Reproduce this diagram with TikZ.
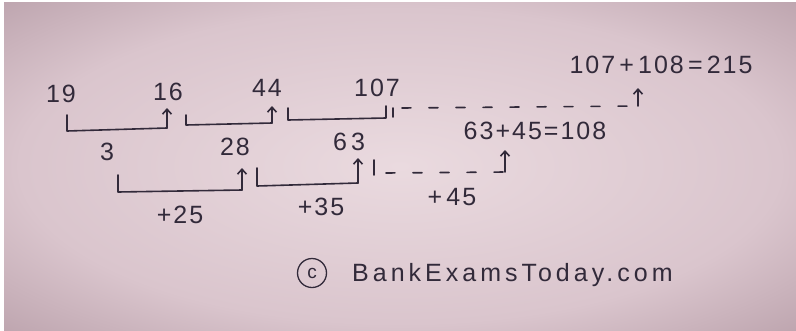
\documentclass[tikz,border=0pt]{standalone}
\usepackage{fontspec}
\setmainfont{Liberation Sans}[LetterSpace=8]
\usetikzlibrary{arrows.meta}
\definecolor{ink}{RGB}{50,42,58}
\definecolor{pinkin}{RGB}{234,218,223}
\definecolor{pinkmid}{RGB}{218,197,205}
\definecolor{pinkout}{RGB}{155,126,138}
\pgfdeclareradialshading{paper}{\pgfpoint{0bp}{0bp}}{color(0bp)=(pinkin); color(24bp)=(pinkmid); color(50bp)=(pinkout); color(75bp)=(pinkout)}
\begin{document}
\begin{tikzpicture}[x=1pt,y=-1pt,
  num/.style={text=ink, font=\fontsize{25}{29}\selectfont, inner sep=0pt, anchor=center},
  ln/.style={draw=ink, line width=1.6pt, line cap=round, line join=round},
  arr/.style={ln, -{Straight Barb[length=5pt,width=9pt]}},
  dsh/.style={ln, dash pattern=on 9pt off 18pt}]
\useasboundingbox (0,0) rectangle (796,330);
\fill[white] (0,0) rectangle (796,330);
\shade[shading=paper] (4,2) rectangle (796,330);

% row 1 numbers
\node[num] (n19) at (61,94) {19};
\node[num] (n16) at (168,92) {16};
\node[num] (n44) at (267,88) {44};
\node[num] (n107) at (377,88) {107};
% row 1 differences
\node[num] (d3) at (107,152) {3};
\node[num] (d28) at (235,147) {28};
\node[num] (d63) at (349,142) {6\,3};
% row 2 differences
\node[num] (p25) at (180,215) {+25};
\node[num] (p35) at (321,207) {+35};
\node[num] (p45) at (452,197) {+\,45};
% results
\node[num] (r108) at (535,131) {63+45=108};
\node[num] (r215) at (661,65) {107\,+\,108\,=\,215};

% row 1 bracket corners
\coordinate (a1) at (67,115); \coordinate (a2) at (67,131); \coordinate (a3) at (167,128); \coordinate (a4) at (167,108);
\coordinate (b1) at (186,115); \coordinate (b2) at (186,125); \coordinate (b3) at (272,123); \coordinate (b4) at (272,106);
\coordinate (c1) at (288,108); \coordinate (c2) at (288,120); \coordinate (c3) at (386,118); \coordinate (c4) at (386,106);
\coordinate (c5) at (393,108); \coordinate (c6) at (393,117);
\coordinate (e1) at (402,108); \coordinate (e2) at (638,106); \coordinate (e3) at (638,88);

\draw[ln] (a1) -- (a2) -- (a3);
\draw[arr] (a3) -- (a4);
\draw[ln] (b1) -- (b2) -- (b3);
\draw[arr] (b3) -- (b4);
\draw[ln] (c1) -- (c2) -- (c3) -- (c4);
\draw[ln] (c5) -- (c6);
\draw[dsh] (e1) -- (e2);
\draw[arr] (e2) -- (e3);

% row 2 bracket corners
\coordinate (f1) at (118,175); \coordinate (f2) at (118,192); \coordinate (f3) at (242,190); \coordinate (f4) at (242,168);
\coordinate (g1) at (257,168); \coordinate (g2) at (257,186); \coordinate (g3) at (358,183); \coordinate (g4) at (358,158);
\coordinate (h1) at (374,160); \coordinate (h2) at (374,175);
\coordinate (k1) at (386,173); \coordinate (k2) at (505,172); \coordinate (k3) at (505,150);

\draw[ln] (f1) -- (f2) -- (f3);
\draw[arr] (f3) -- (f4);
\draw[ln] (g1) -- (g2) -- (g3);
\draw[arr] (g3) -- (g4);
\draw[ln] (h1) -- (h2);
\draw[dsh] (k1) -- (k2);
\draw[arr] (k2) -- (k3);

% footer
\node[draw=ink, line width=1.3pt, circle, minimum size=29pt, inner sep=0pt, text=ink, font=\fontsize{19}{21}\selectfont] (copy) at (312,273) {c};
\node[num, anchor=base west, font=\fontsize{25}{29}\selectfont\addfontfeature{LetterSpace=16}] (site) at (352,281) {BankExamsToday.com};
\end{tikzpicture}
\end{document}
